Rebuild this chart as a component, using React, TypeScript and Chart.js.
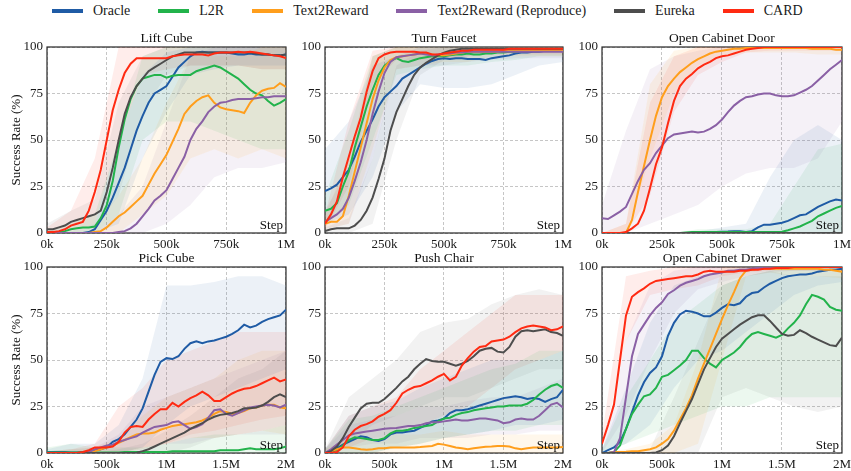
import React, { useEffect, useRef } from 'react';
import { Chart, registerables } from 'chart.js';

Chart.register(...registerables);

const FONT = "'Liberation Serif', 'Times New Roman', Times, serif";

// ---------- series ----------
const SERIES_NAMES = ['Oracle', 'L2R', 'Text2Reward', 'Text2Reward (Reproduce)', 'Eureka', 'CARD'];
const SERIES_COLORS = ['#1f5ba5', '#22b34b', '#ff9e1c', '#8a60a5', '#4d4d4d', '#ff2a12'];
const BAND_COLORS = [
  'rgba(31,91,165,0.085)',
  'rgba(34,179,75,0.085)',
  'rgba(255,158,28,0.085)',
  'rgba(138,96,165,0.085)',
  'rgba(77,77,77,0.07)',
  'rgba(255,42,18,0.085)',
];

const PANEL_TITLES = ['Lift Cube', 'Turn Faucet', 'Open Cabinet Door', 'Pick Cube', 'Push Chair', 'Open Cabinet Drawer'];
const Y_LABEL = 'Success Rate (%)';
const Y_TICK_LABELS = ['0', '25', '50', '75', '100'];
const TICKS_1M = ['0k', '250k', '500k', '750k', '1M'];
const TICKS_2M = ['0k', '500k', '1M', '1.5M', '2M'];

// x positions (thousands of steps)
const STEPS_1M = [0, 25, 50, 75, 100, 125, 150, 175, 200, 225, 250, 275, 300, 325, 350, 375, 400, 425, 450, 475, 500, 525, 550, 575, 600, 625, 650, 675, 700, 725, 750, 775, 800, 825, 850, 875, 900, 925, 950, 975, 1000];
const STEPS_2M = [0, 50, 100, 150, 200, 250, 300, 350, 400, 450, 500, 550, 600, 650, 700, 750, 800, 850, 900, 950, 1000, 1050, 1100, 1150, 1200, 1250, 1300, 1350, 1400, 1450, 1500, 1550, 1600, 1650, 1700, 1750, 1800, 1850, 1900, 1950, 2000];
const BAND_STEPS_1M = [0, 100, 200, 300, 400, 500, 600, 700, 800, 900, 1000];
const BAND_STEPS_2M = [0, 200, 400, 600, 800, 1000, 1200, 1400, 1600, 1800, 2000];

// ---------- Lift Cube ----------
const LC_ORACLE = [0, 0, 0, 0, 0, 0, 0, 0.5, 2, 7, 12, 19, 27, 35, 45, 55, 63, 70, 75, 77, 79, 84, 89, 92, 95, 97, 97.5, 97, 97, 97, 97, 96.5, 96, 96, 96.5, 96, 96, 96, 95.5, 95.5, 96];
const LC_L2R = [0, 0, 0.5, 1, 2, 2.5, 3, 3, 3.5, 8, 15, 28, 46, 61, 72, 79, 83, 84, 85, 85, 83.5, 84.5, 85, 85, 85, 87, 88, 89, 90, 89, 87, 85, 83, 80, 77, 75, 74, 71, 68.5, 70, 72];
const LC_T2R = [0, 0, 0, 0, 0, 0, 0, 0, 0.5, 1, 3, 6, 9, 11, 14, 17, 20, 26, 32, 37, 42, 49, 56, 64, 68, 71, 73, 74, 70, 67.5, 66.5, 66, 65.5, 64.5, 70, 74, 76.5, 77.5, 78, 80.5, 78.5];
const LC_T2RR = [0, 0, 0, 0, 0, 0, 0, 0, 0, 0, 0, 0, 0.5, 1, 2.5, 5, 9, 13, 17.5, 20, 23, 29, 35, 41, 50, 56, 60, 65, 68, 70, 70.5, 71.5, 72, 72, 72, 72.5, 73, 73, 73.5, 73.5, 73.5];
const LC_EUREKA = [2, 2, 3, 4, 6, 7, 8, 9, 10, 12, 22, 35, 50, 64, 73, 79, 83, 87, 89, 91, 93, 95, 96, 97, 97, 97, 97, 97, 97, 97, 97, 97, 97, 97, 97, 96.5, 96, 96, 95.5, 95.5, 96];
const LC_CARD = [0.5, 0.5, 1, 2, 4, 5, 6, 12, 22, 34, 50, 66, 77, 86, 91, 94, 94, 94, 94, 94, 94, 95, 95.5, 96, 96, 96, 96, 95.5, 96.5, 97, 97, 97, 97.5, 97, 97.5, 97, 96.5, 96, 95.5, 95, 94];
const LC_ORACLE_LO = [0, 0, 0, 5, 40, 65, 85, 88, 90, 90, 90];
const LC_ORACLE_HI = [1, 1, 5, 50, 85, 97, 100, 100, 100, 100, 100];
const LC_L2R_LO = [0, 0, 0, 10, 50, 60, 60, 55, 50, 45, 45];
const LC_L2R_HI = [1, 5, 10, 50, 95, 100, 100, 100, 100, 100, 100];
const LC_T2R_LO = [0, 0, 0, 0, 10, 20, 40, 45, 40, 45, 40];
const LC_T2R_HI = [1, 1, 5, 20, 40, 70, 95, 95, 95, 100, 100];
const LC_T2RR_LO = [0, 0, 0, 0, 0, 5, 15, 30, 35, 35, 38];
const LC_T2RR_HI = [0, 0, 0, 10, 25, 60, 95, 100, 100, 100, 100];
const LC_EUREKA_LO = [0, 2, 3, 20, 65, 85, 90, 90, 90, 88, 88];
const LC_EUREKA_HI = [5, 12, 18, 70, 95, 100, 100, 100, 100, 100, 100];
const LC_CARD_LO = [0, 1, 5, 50, 85, 88, 90, 90, 90, 88, 88];
const LC_CARD_HI = [3, 12, 40, 100, 100, 100, 100, 100, 100, 100, 100];

// ---------- Turn Faucet ----------
const TF_ORACLE = [22.5, 24, 26, 30, 34, 41, 49, 55, 61, 68, 73, 76, 79, 83, 85, 87, 89, 91, 92.5, 93.5, 94, 93.5, 94, 94, 93.5, 93.5, 93.5, 93, 94, 94.5, 95, 95.5, 96.5, 97, 97, 97.5, 97.5, 98, 98, 98, 98];
const TF_L2R = [12, 13, 16, 25, 33, 46, 57, 68, 77, 85, 90, 92.5, 94, 92.5, 92, 93, 94, 94.5, 95, 95, 95, 95.5, 96, 96, 96.5, 96, 96, 96.5, 96.5, 97, 97, 97.5, 97.5, 98, 98, 98, 98.5, 98.5, 98.5, 98.5, 98.5];
const TF_T2R = [5, 6, 6, 9, 20, 33, 46, 59, 72, 82, 89, 93, 94.5, 95, 95.5, 96, 96.5, 96.5, 96, 95.5, 95.5, 96, 96.5, 97, 97.5, 97.5, 97.5, 97.5, 97.5, 97.5, 98, 98, 98, 98, 98, 98, 98, 98, 98, 98, 98];
const TF_T2RR = [6, 8, 10, 13, 19, 28, 38, 50, 64, 76, 86, 92, 94.5, 95, 95.5, 96, 96.5, 96, 95.5, 96, 96.5, 96.5, 97, 97, 97.5, 97.5, 97.5, 97.5, 97.5, 97.5, 97.5, 97.5, 97.5, 97.5, 97.5, 97.5, 97.5, 97.5, 97.5, 97.5, 97.5];
const TF_EUREKA = [1, 2, 2.5, 2.5, 2.5, 4, 7, 12, 19, 29, 40, 55, 65, 72, 79, 85, 89, 91.5, 93.5, 95.5, 97, 98, 98.5, 99, 99, 99, 99, 99, 99, 99, 99, 99, 99, 99, 99, 99, 99, 99, 99, 99, 99];
const TF_CARD = [5, 10, 17, 30, 41, 52, 62, 76, 87, 94, 96, 97, 97.5, 97.5, 97.5, 97.5, 97, 97, 96, 96, 96.5, 97, 97.5, 98, 98, 98.5, 98.5, 98.5, 98.5, 98.5, 98.5, 99, 99, 99, 99, 99, 99, 99, 99, 99, 99];
const TF_ORACLE_LO = [5, 10, 30, 65, 80, 78, 78, 80, 85, 90, 92];
const TF_ORACLE_HI = [45, 60, 90, 95, 100, 100, 100, 100, 100, 100, 100];
const TF_L2R_LO = [5, 15, 50, 85, 88, 90, 90, 92, 93, 95, 95];
const TF_L2R_HI = [20, 55, 95, 100, 100, 100, 100, 100, 100, 100, 100];
const TF_T2R_LO = [2, 5, 45, 88, 90, 92, 92, 95, 95, 95, 95];
const TF_T2R_HI = [10, 40, 95, 100, 100, 100, 100, 100, 100, 100, 100];
const TF_T2RR_LO = [2, 5, 40, 88, 90, 90, 92, 93, 94, 94, 94];
const TF_T2RR_HI = [12, 35, 95, 100, 100, 100, 100, 100, 100, 100, 100];
const TF_EUREKA_LO = [0, 0, 5, 50, 85, 93, 95, 97, 97, 97, 97];
const TF_EUREKA_HI = [3, 8, 40, 90, 98, 100, 100, 100, 100, 100, 100];
const TF_CARD_LO = [2, 25, 80, 93, 93, 94, 95, 96, 96, 96, 96];
const TF_CARD_HI = [10, 60, 98, 100, 100, 100, 100, 100, 100, 100, 100];

// ---------- Open Cabinet Door ----------
const OCD_ORACLE = [0, 0, 0, 0, 0, 0, 0, 0, 0, 0, 0, 0, 0, 0, 0, 0, 0.3, 0.5, 0.5, 0.5, 0.7, 0.8, 1, 1, 0.5, 1, 3, 4.5, 4.5, 5, 5.5, 6.5, 8, 9.5, 10, 12, 14, 15.5, 17, 18, 17.5];
const OCD_L2R = [0, 0, 0, 0, 0, 0, 0, 0, 0, 0, 0, 0, 0, 0, 0.3, 0.5, 0.5, 0.5, 0.5, 0.5, 0.5, 0.5, 0.5, 0.5, 0.5, 0.5, 0.5, 0.5, 0.5, 0.5, 0.7, 1.5, 2.5, 3.5, 5, 6.5, 9, 10.5, 12, 13.5, 14.5];
const OCD_T2R = [0, 0, 0, 0, 0, 7, 22, 36, 50, 63, 73, 79, 83, 86.5, 89, 91.5, 93.5, 95, 96.5, 97.5, 98, 98.5, 99, 99, 99.5, 99.5, 99.5, 99.5, 99.5, 99.5, 99.5, 99.5, 99.5, 99.5, 99.5, 99, 99, 99, 99, 98.5, 98.5];
const OCD_T2RR = [8, 7.5, 9.5, 11.5, 14, 21, 28, 34, 37.5, 43, 47, 51, 53, 53.5, 54, 54.5, 54, 54.5, 56, 58, 61, 65, 68.5, 71, 73, 73.5, 74.5, 75, 75, 74, 73.5, 73.5, 74, 75.5, 77, 79, 82, 85, 88, 90.5, 93];
const OCD_EUREKA = [0, 0, 0, 0, 0, 0, 0, 0, 0, 0, 0, 0, 0, 0, 0, 0, 0, 0, 0, 0, 0, 0, 0, 0, 0, 0, 0, 0, 0, 0, 0, 0, 0, 0, 0, 0, 0, 0, 0, 0, 0];
const OCD_CARD = [0, 0, 0, 0, 0.5, 2.5, 5, 12, 24, 37, 46, 59, 71, 79, 83, 85.5, 88.5, 90.5, 92, 94, 95, 95.5, 96.5, 97.5, 98.5, 99, 99.5, 100, 100, 100, 100, 100, 100, 100, 100, 100, 100, 100, 100, 100, 100];
const OCD_ORACLE_LO = [0, 0, 0, 0, 0, 0, 0, 0, 0, 0, 0];
const OCD_ORACLE_HI = [0, 0, 0, 0, 1, 3, 5, 30, 50, 58, 50];
const OCD_L2R_LO = [0, 0, 0, 0, 0, 0, 0, 0, 0, 0, 0];
const OCD_L2R_HI = [0, 0, 0, 0, 2, 2, 2, 5, 25, 45, 48];
const OCD_T2R_LO = [0, 0, 40, 75, 90, 95, 97, 97, 97, 96, 96];
const OCD_T2R_HI = [0, 5, 80, 98, 100, 100, 100, 100, 100, 100, 100];
const OCD_T2RR_LO = [0, 0, 5, 10, 15, 25, 32, 35, 35, 40, 60];
const OCD_T2RR_HI = [15, 55, 88, 95, 98, 100, 100, 100, 100, 100, 100];
const OCD_EUREKA_LO = [0, 0, 0, 0, 0, 0, 0, 0, 0, 0, 0];
const OCD_EUREKA_HI = [0, 0, 0, 0, 0, 0, 0, 0, 0, 0, 0];
const OCD_CARD_LO = [0, 0, 20, 65, 85, 92, 97, 98, 98, 98, 98];
const OCD_CARD_HI = [0, 5, 70, 95, 100, 100, 100, 100, 100, 100, 100];

// ---------- Pick Cube ----------
const PC_ORACLE = [0.5, 0.5, 0.5, 0.5, 0.3, 0.3, 0.5, 0.7, 1.2, 2, 3, 6, 7.5, 10, 14, 18, 24, 33, 42, 49, 51, 50.5, 52, 56, 59, 60, 59, 60, 60.5, 61.5, 62.5, 64, 66, 69, 67.5, 68.5, 70.5, 72, 73, 74, 77];
const PC_L2R = [0.3, 0.3, 0.3, 0.3, 0.3, 0.3, 0.3, 0.3, 0.3, 0.3, 0.3, 0.3, 0.3, 0.5, 0.5, 0.5, 0.5, 0.5, 0.5, 0.5, 0.5, 1, 1, 1, 1, 1, 1, 1, 1, 1.5, 1.5, 1.5, 1.5, 2, 2.5, 2, 2, 2, 2, 2.5, 3.5];
const PC_T2R = [0, 0, 0, 0, 0, 0, 0, 0, 1, 2, 3, 4, 5.5, 7, 8.5, 10, 10.5, 10.5, 11, 12.5, 13.5, 14.5, 15, 15.5, 16, 16.5, 17.5, 19, 21, 22.5, 22, 21, 21.5, 22.5, 24, 24.5, 25.5, 26, 26, 24.5, 24];
const PC_T2RR = [0, 0, 0, 0, 0, 0, 0, 0.5, 2, 3, 4, 4.5, 6, 7, 8, 9, 11, 12.5, 14, 14.5, 15, 16.5, 17, 15, 13, 14, 15.5, 19, 23, 23.5, 21, 20, 21.5, 23, 24.5, 25, 25.5, 26, 25.5, 24.5, 26];
const PC_EUREKA = [0, 0, 0, 0, 0, 0, 0, 0, 0, 0, 0, 0, 0, 0, 0, 0.2, 1, 2, 3.5, 5, 6.5, 8, 9.5, 11, 13, 14.5, 16, 18, 19.5, 20.5, 21, 21.5, 22.5, 24, 24, 24.5, 25.5, 27.5, 30, 31.5, 30];
const PC_CARD = [0, 0, 0, 0, 0, 0, 0.5, 1.5, 3, 3, 3, 3.5, 6, 11, 14, 14.5, 14, 18, 21, 23.5, 23.5, 27, 25, 27.5, 29.5, 31, 33, 31, 28, 28, 30, 32, 33.5, 34.5, 35, 36, 37.5, 39, 40.5, 38.5, 39.5];
const PC_ORACLE_LO = [0, 0, 0, 0, 3, 15, 25, 30, 35, 40, 45];
const PC_ORACLE_HI = [2, 5, 5, 15, 40, 90, 90, 92, 95, 95, 90];
const PC_L2R_LO = [0, 0, 0, 0, 0, 0, 0, 0, 0, 0, 0];
const PC_L2R_HI = [3, 5, 3, 3, 3, 5, 8, 10, 10, 12, 15];
const PC_T2R_LO = [0, 0, 0, 0, 2, 5, 8, 8, 10, 12, 10];
const PC_T2R_HI = [1, 2, 3, 8, 20, 30, 35, 40, 50, 55, 55];
const PC_T2RR_LO = [0, 0, 0, 0, 2, 5, 5, 8, 10, 10, 10];
const PC_T2RR_HI = [1, 2, 3, 10, 25, 30, 35, 40, 45, 50, 55];
const PC_EUREKA_LO = [0, 0, 0, 0, 0, 0, 3, 8, 10, 12, 15];
const PC_EUREKA_HI = [0, 0, 0, 2, 5, 12, 20, 30, 40, 45, 55];
const PC_CARD_LO = [0, 0, 0, 0, 3, 5, 10, 12, 15, 18, 20];
const PC_CARD_HI = [1, 2, 5, 25, 35, 50, 55, 60, 65, 65, 65];

// ---------- Push Chair ----------
const PUC_ORACLE = [0, 1, 2.5, 4.5, 6, 7.5, 9, 8.5, 7, 6.5, 7.5, 10, 11, 11, 11.5, 12, 13.5, 15, 17, 17.5, 18.5, 21.5, 23, 23, 23.5, 24.5, 25.5, 26.5, 27.5, 28.5, 29.5, 30, 30.5, 30, 29, 29.5, 29, 27.5, 29, 30, 34];
const PUC_L2R = [0, 0.5, 1.5, 4, 7, 8.5, 8, 7.5, 7, 7, 8, 10.5, 12, 12, 12.5, 13.5, 14, 14.5, 15, 17, 18.5, 19, 20.5, 21.5, 22, 23, 23.5, 24, 24.5, 25, 25, 25.5, 25.5, 25.5, 26.5, 28.5, 31.5, 34, 36, 37, 35];
const PUC_T2R = [0, 1, 2, 3, 3, 2.5, 2, 1.7, 2, 2.5, 2.5, 3, 3, 3, 3, 3, 3.2, 3.5, 3.8, 5, 4.5, 3.8, 3, 2.5, 2, 2.5, 3, 3.3, 3.5, 3.8, 3.8, 3.5, 2.5, 2, 2.5, 3, 3, 3, 3, 3, 3.2];
const PUC_T2RR = [0, 2, 4.5, 7, 9.5, 10.5, 11, 11.5, 12, 12.5, 13, 13.3, 13.5, 14, 14.5, 14.5, 15, 16, 16.5, 16.5, 17, 17.5, 18, 17.5, 17.5, 18, 18.5, 18.5, 18, 17.5, 16, 16.5, 18, 18.5, 18, 18, 20, 23, 26, 27, 24.5];
const PUC_EUREKA = [0, 1, 3.5, 8, 14, 19, 24, 26.5, 27, 27, 29, 32, 35, 38.5, 41, 45, 48, 50.5, 49.5, 49, 49, 48, 47, 48, 49.5, 52, 55, 56, 56.5, 54.5, 54, 57, 62.5, 65.5, 66, 65.5, 66, 66.5, 65, 64.5, 63];
const PUC_CARD = [0, 0, 0.5, 3, 9, 12.5, 14.5, 15.5, 17, 19.5, 21, 23, 27, 32, 34, 35.5, 36, 37.5, 39, 41, 42.5, 39, 41, 47, 51, 54.5, 57, 57.5, 60, 60.5, 61, 62.5, 65, 67, 68, 68.5, 68, 67.5, 66, 66.5, 68];
const PUC_ORACLE_LO = [0, 0, 0, 3, 5, 8, 10, 12, 15, 15, 18];
const PUC_ORACLE_HI = [2, 20, 25, 28, 35, 40, 45, 50, 50, 50, 55];
const PUC_L2R_LO = [0, 0, 0, 3, 5, 8, 10, 12, 12, 15, 15];
const PUC_L2R_HI = [2, 18, 20, 25, 30, 35, 40, 45, 48, 55, 55];
const PUC_T2R_LO = [0, 0, 0, 0, 0, 0, 0, 0, 0, 0, 0];
const PUC_T2R_HI = [2, 8, 8, 10, 10, 12, 10, 10, 10, 10, 10];
const PUC_T2RR_LO = [0, 3, 5, 5, 8, 8, 8, 10, 10, 12, 12];
const PUC_T2RR_HI = [2, 15, 18, 20, 25, 25, 28, 30, 30, 35, 40];
const PUC_EUREKA_LO = [0, 5, 15, 20, 25, 30, 30, 35, 40, 45, 45];
const PUC_EUREKA_HI = [2, 30, 40, 50, 65, 70, 72, 80, 85, 88, 85];
const PUC_CARD_LO = [0, 3, 8, 10, 15, 20, 25, 35, 45, 50, 55];
const PUC_CARD_HI = [2, 20, 25, 30, 45, 55, 65, 75, 85, 85, 85];

// ---------- Open Cabinet Drawer ----------
const OCDR_ORACLE = [0, 1.5, 3, 6, 13, 22, 31, 38, 43, 46, 52, 63, 70, 74.5, 76.5, 76, 75, 73.5, 73.5, 75.5, 78, 80, 79.5, 80.5, 84, 86, 86.5, 89, 91, 92.5, 94, 95, 95.5, 96, 96, 96.5, 97.5, 98, 98.5, 98.5, 99];
const OCDR_L2R = [0, 0, 0.5, 4, 13, 21, 26, 30.5, 31.5, 35, 41, 42, 44.5, 47, 50, 55, 55, 51, 48, 46, 50, 52, 54, 57, 61, 64, 65, 64, 63, 62, 63.5, 67, 70, 74, 80, 85, 84, 82.5, 78.5, 77, 76.5];
const OCDR_T2R = [0, 0, 0.5, 0.5, 0.7, 1, 1, 1.5, 2, 3, 5, 7.5, 12, 18, 24, 31, 40, 48, 56, 64, 72, 79.5, 86.5, 94, 98, 98.5, 99, 99, 99, 99, 99, 99, 99, 99, 99, 99, 99, 98.5, 98.5, 98, 97.5];
const OCDR_T2RR = [0, 0, 0.5, 8, 30, 52, 64, 69, 74, 78, 81, 85.5, 87.5, 90, 91.5, 92.5, 93.5, 95, 96, 96.5, 97, 98, 98, 98.5, 98.5, 99, 99.5, 99.5, 100, 100, 100, 100, 100, 100, 100, 100, 100, 100, 100, 100, 100];
const OCDR_EUREKA = [0, 0, 0, 0, 0, 0, 0, 0, 0, 0.3, 1.5, 4, 9, 16, 22.5, 29, 37, 45, 51, 57, 61.5, 64, 66.5, 69, 71, 73, 74, 74, 71, 67.5, 64, 63, 63.5, 66, 64.5, 62.5, 61, 59.5, 58, 57.5, 62];
const OCDR_CARD = [5, 15, 26, 50, 74, 84, 86.5, 88.5, 91, 92.5, 93, 93.5, 94, 94.5, 95, 95, 96, 97.5, 98, 97.5, 97.5, 97.5, 97.5, 98, 98, 98.5, 98.5, 99, 99, 99.5, 99.5, 99.5, 100, 100, 100, 100, 100, 100, 100, 100, 100];
const OCDR_ORACLE_LO = [0, 5, 15, 35, 50, 55, 65, 75, 85, 90, 92];
const OCDR_ORACLE_HI = [2, 35, 70, 90, 95, 98, 100, 100, 100, 100, 100];
const OCDR_L2R_LO = [0, 5, 10, 15, 20, 25, 25, 30, 30, 30, 30];
const OCDR_L2R_HI = [2, 30, 50, 70, 80, 90, 95, 98, 100, 100, 100];
const OCDR_T2R_LO = [0, 0, 0, 0, 5, 50, 95, 97, 95, 95, 94];
const OCDR_T2R_HI = [0, 2, 5, 15, 50, 100, 100, 100, 100, 100, 100];
const OCDR_T2RR_LO = [0, 20, 50, 75, 88, 92, 95, 97, 98, 98, 98];
const OCDR_T2RR_HI = [0, 60, 90, 98, 100, 100, 100, 100, 100, 100, 100];
const OCDR_EUREKA_LO = [0, 0, 0, 0, 0, 30, 35, 30, 25, 22, 25];
const OCDR_EUREKA_HI = [0, 0, 2, 30, 60, 90, 95, 98, 95, 95, 95];
const OCDR_CARD_LO = [3, 60, 85, 88, 90, 95, 97, 98, 98, 98, 98];
const OCDR_CARD_HI = [10, 95, 98, 100, 100, 100, 100, 100, 100, 100, 100];

type PanelDef = {
  title: string;
  steps: number[];
  bandSteps: number[];
  tickLabels: string[];
  lines: number[][];
  lo: number[][];
  hi: number[][];
};

const PANELS: PanelDef[] = [
  {
    title: PANEL_TITLES[0], steps: STEPS_1M, bandSteps: BAND_STEPS_1M, tickLabels: TICKS_1M,
    lines: [LC_ORACLE, LC_L2R, LC_T2R, LC_T2RR, LC_EUREKA, LC_CARD],
    lo: [LC_ORACLE_LO, LC_L2R_LO, LC_T2R_LO, LC_T2RR_LO, LC_EUREKA_LO, LC_CARD_LO],
    hi: [LC_ORACLE_HI, LC_L2R_HI, LC_T2R_HI, LC_T2RR_HI, LC_EUREKA_HI, LC_CARD_HI],
  },
  {
    title: PANEL_TITLES[1], steps: STEPS_1M, bandSteps: BAND_STEPS_1M, tickLabels: TICKS_1M,
    lines: [TF_ORACLE, TF_L2R, TF_T2R, TF_T2RR, TF_EUREKA, TF_CARD],
    lo: [TF_ORACLE_LO, TF_L2R_LO, TF_T2R_LO, TF_T2RR_LO, TF_EUREKA_LO, TF_CARD_LO],
    hi: [TF_ORACLE_HI, TF_L2R_HI, TF_T2R_HI, TF_T2RR_HI, TF_EUREKA_HI, TF_CARD_HI],
  },
  {
    title: PANEL_TITLES[2], steps: STEPS_1M, bandSteps: BAND_STEPS_1M, tickLabels: TICKS_1M,
    lines: [OCD_ORACLE, OCD_L2R, OCD_T2R, OCD_T2RR, OCD_EUREKA, OCD_CARD],
    lo: [OCD_ORACLE_LO, OCD_L2R_LO, OCD_T2R_LO, OCD_T2RR_LO, OCD_EUREKA_LO, OCD_CARD_LO],
    hi: [OCD_ORACLE_HI, OCD_L2R_HI, OCD_T2R_HI, OCD_T2RR_HI, OCD_EUREKA_HI, OCD_CARD_HI],
  },
  {
    title: PANEL_TITLES[3], steps: STEPS_2M, bandSteps: BAND_STEPS_2M, tickLabels: TICKS_2M,
    lines: [PC_ORACLE, PC_L2R, PC_T2R, PC_T2RR, PC_EUREKA, PC_CARD],
    lo: [PC_ORACLE_LO, PC_L2R_LO, PC_T2R_LO, PC_T2RR_LO, PC_EUREKA_LO, PC_CARD_LO],
    hi: [PC_ORACLE_HI, PC_L2R_HI, PC_T2R_HI, PC_T2RR_HI, PC_EUREKA_HI, PC_CARD_HI],
  },
  {
    title: PANEL_TITLES[4], steps: STEPS_2M, bandSteps: BAND_STEPS_2M, tickLabels: TICKS_2M,
    lines: [PUC_ORACLE, PUC_L2R, PUC_T2R, PUC_T2RR, PUC_EUREKA, PUC_CARD],
    lo: [PUC_ORACLE_LO, PUC_L2R_LO, PUC_T2R_LO, PUC_T2RR_LO, PUC_EUREKA_LO, PUC_CARD_LO],
    hi: [PUC_ORACLE_HI, PUC_L2R_HI, PUC_T2R_HI, PUC_T2RR_HI, PUC_EUREKA_HI, PUC_CARD_HI],
  },
  {
    title: PANEL_TITLES[5], steps: STEPS_2M, bandSteps: BAND_STEPS_2M, tickLabels: TICKS_2M,
    lines: [OCDR_ORACLE, OCDR_L2R, OCDR_T2R, OCDR_T2RR, OCDR_EUREKA, OCDR_CARD],
    lo: [OCDR_ORACLE_LO, OCDR_L2R_LO, OCDR_T2R_LO, OCDR_T2RR_LO, OCDR_EUREKA_LO, OCDR_CARD_LO],
    hi: [OCDR_ORACLE_HI, OCDR_L2R_HI, OCDR_T2R_HI, OCDR_T2RR_HI, OCDR_EUREKA_HI, OCDR_CARD_HI],
  },
];

// ---------- layout ----------
const COL_LEFT = [0, 285, 562];
const Y_AXIS_W = [47, 40, 40];
const PLOT_W = [240, 239, 241];
const ROW_TOP = [25, 245];
const TITLE_H = 22;
const PLOT_H = 186;
const X_AXIS_H = 22;
const RIGHT_PAD = 12;

const framePlugin = {
  id: 'frame',
  beforeDatasetsDraw(chart: any) {
    const { ctx, chartArea: a } = chart;
    ctx.save();
    ctx.strokeStyle = '#262626';
    ctx.lineWidth = 1.2;
    ctx.strokeRect(a.left, a.top, a.right - a.left, a.bottom - a.top);
    ctx.restore();
  },
};

const stepPlugin = {
  id: 'stepLabel',
  afterDatasetsDraw(chart: any) {
    const { ctx, chartArea: a } = chart;
    ctx.save();
    ctx.font = `13px ${FONT}`;
    ctx.fillStyle = '#111';
    ctx.textAlign = 'right';
    ctx.textBaseline = 'alphabetic';
    ctx.fillText('Step', a.right - 3, a.bottom - 4);
    ctx.restore();
  },
};

function Panel({ def, row, col }: { def: PanelDef; row: number; col: number }) {
  const ref = useRef<HTMLCanvasElement>(null);
  const w = Y_AXIS_W[col] + PLOT_W[col] + RIGHT_PAD;
  const h = TITLE_H + PLOT_H + X_AXIS_H;

  useEffect(() => {
    const xMax = def.steps[def.steps.length - 1];
    const datasets: any[] = [];
    def.lo.forEach((lo, s) => {
      datasets.push({
        label: SERIES_NAMES[s] + ' low',
        data: def.bandSteps.map((x, i) => ({ x, y: lo[i] })),
        borderWidth: 0,
        borderColor: 'transparent',
        pointRadius: 0,
        fill: false,
        order: 20,
      });
      datasets.push({
        label: SERIES_NAMES[s] + ' high',
        data: def.bandSteps.map((x, i) => ({ x, y: def.hi[s][i] })),
        borderWidth: 0,
        borderColor: 'transparent',
        backgroundColor: BAND_COLORS[s],
        pointRadius: 0,
        fill: '-1',
        order: 20,
      });
    });
    def.lines.forEach((vals, s) => {
      datasets.push({
        label: SERIES_NAMES[s],
        data: def.steps.map((x, i) => ({ x, y: vals[i] })),
        borderColor: SERIES_COLORS[s],
        borderWidth: 2,
        pointRadius: 0,
        fill: false,
        tension: 0,
        order: 5 - s,
      });
    });

    const tickFont = { family: FONT, size: 13, weight: 'normal' as const };
    const grid = { color: '#b8b8b8', lineWidth: 0.8, drawTicks: false };
    const border = { display: false, dash: [3, 2] };

    const chart = new Chart(ref.current as HTMLCanvasElement, {
      type: 'line',
      data: { datasets },
      options: {
        animation: false,
        responsive: false,
        maintainAspectRatio: false,
        events: [],
        layout: { padding: { left: 0, right: RIGHT_PAD, top: 0, bottom: 0 } },
        plugins: {
          legend: { display: false },
          tooltip: { enabled: false },
          title: {
            display: true,
            text: def.title,
            fullSize: false,
            color: '#111',
            font: { family: FONT, size: 13.5, weight: 'normal' },
            padding: { top: 5.8, bottom: 0 },
          },
        },
        scales: {
          x: {
            type: 'linear',
            min: 0,
            max: xMax,
            ticks: {
              stepSize: xMax / 4,
              autoSkip: false,
              maxRotation: 0,
              padding: 4,
              color: '#1a1a1a',
              font: tickFont,
              callback: (_v: any, i: number) => def.tickLabels[i],
            },
            grid,
            border,
            afterFit: (s: any) => { s.height = X_AXIS_H; },
          },
          y: {
            min: 0,
            max: 100,
            ticks: {
              stepSize: 25,
              padding: 4,
              color: '#1a1a1a',
              font: tickFont,
              callback: (_v: any, i: number) => Y_TICK_LABELS[i],
            },
            grid,
            border,
            title: {
              display: col === 0,
              text: Y_LABEL,
              color: '#111',
              font: { family: FONT, size: 13, weight: 'normal' },
              padding: { top: 9, bottom: 0 },
            },
            afterFit: (s: any) => { s.width = Y_AXIS_W[col]; },
          },
        },
      } as any,
      plugins: [framePlugin, stepPlugin],
    });
    return () => chart.destroy();
  }, []);

  return (
    <canvas
      ref={ref}
      width={w}
      height={h}
      style={{ position: 'absolute', left: COL_LEFT[col], top: ROW_TOP[row], width: w, height: h }}
    />
  );
}

function Legend() {
  return (
    <div
      style={{
        position: 'absolute', left: 52, top: 3, height: 16, display: 'flex', alignItems: 'center', gap: 28,
        fontFamily: FONT, fontSize: 14, color: '#1a1a1a', whiteSpace: 'nowrap',
      }}
    >
      {SERIES_NAMES.map((name, s) => (
        <div key={name} style={{ display: 'flex', alignItems: 'center' }}>
          <div style={{ width: 31, height: 3.5, background: SERIES_COLORS[s], marginRight: 10 }} />
          <span style={{ lineHeight: '16px' }}>{name}</span>
        </div>
      ))}
    </div>
  );
}

export default function App() {
  return (
    <div
      style={{
        position: 'absolute', left: 0, top: 0, width: 851, height: 471, overflow: 'hidden', background: '#fff',
      }}
    >
      <Legend />
      {PANELS.map((def, i) => (
        <Panel key={def.title} def={def} row={Math.floor(i / 3)} col={i % 3} />
      ))}
    </div>
  );
}
